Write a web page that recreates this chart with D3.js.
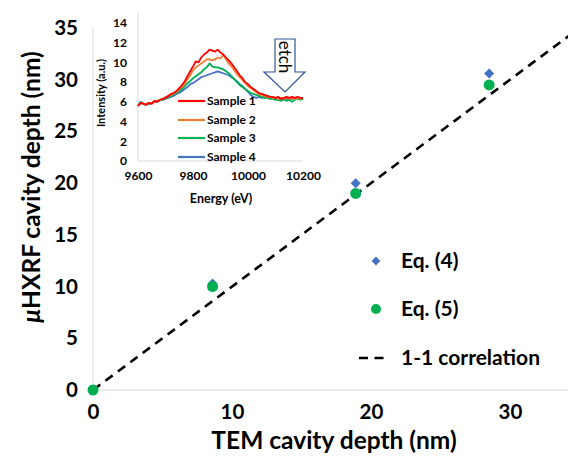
<!DOCTYPE html>
<html><head><meta charset="utf-8">
<script src="https://cdn.jsdelivr.net/npm/d3@7"></script>
<style>body{margin:0;background:#fff}svg{display:block}text{font-family:Lato,"Open Sans",sans-serif}</style>
</head><body><svg id="c" width="568" height="461"></svg>
<script>
// Main chart data
const temDepth = [0, 8.6, 18.9, 28.5];
const eq4 = [0, 10.3, 20.0, 30.6];
const eq5 = [0, 10.0, 19.0, 29.5];
const xTicks = [0, 10, 20, 30];
const yTicks = [0, 5, 10, 15, 20, 25, 30, 35];

// Inset data
const energy = d3.range(9600, 10201, 10);
const sample1 = [5.6,5.9,5.8,5.7,5.9,5.8,6.1,6.0,6.2,6.3, 6.4,6.6,6.8,6.9,7.1,7.4,7.7,8.1,8.6,9.1, 9.6,10.1,10.0,10.5,10.8,11.0,11.3,11.2,11.1,11.3, 11.0,10.8,10.5,10.2,9.9,9.5,9.1,8.7,8.4,8.0, 7.8,7.5,7.3,7.1,6.9,6.8,6.7,6.6,6.5,6.5, 6.4,6.5,6.3,6.4,6.5,6.4,6.5,6.4,6.5,6.4,6.4];
const sample2 = [5.6,5.9,5.8,5.8,5.9,5.9,6.0,6.1,6.2,6.3, 6.5,6.6,6.7,6.9,7.0,7.3,7.5,7.9,8.3,8.7, 9.2,9.5,9.7,9.9,10.1,10.3,10.3,10.2,10.3,10.5, 10.4,10.8,10.3,9.9,9.6,9.2,8.8,8.5,8.2,7.9, 7.6,7.4,7.2,7.0,6.8,6.7,6.6,6.5,6.5,6.4, 6.4,6.3,6.4,6.3,6.4,6.3,6.4,6.3,6.4,6.3,6.4];
const sample3 = [5.6,6.0,5.8,5.8,5.8,5.9,6.0,6.1,6.2,6.2, 6.4,6.5,6.6,6.8,6.9,7.1,7.3,7.6,7.9,8.1, 8.4,8.6,8.8,9.0,9.3,9.5,9.9,9.6,9.5,9.5, 9.4,9.3,9.1,8.9,8.6,8.3,8.0,7.7,7.5,7.3, 7.1,6.9,6.8,6.7,6.6,6.5,6.4,6.4,6.3,6.3, 6.2,6.2,6.1,6.3,6.1,6.2,6.0,6.2,6.4,6.2,6.3];
const sample4 = [5.6,5.9,5.8,5.7,5.8,5.9,6.0,6.0,6.2,6.2, 6.3,6.4,6.5,6.6,6.8,6.9,7.1,7.3,7.5,7.8, 7.9,8.1,8.3,8.5,8.6,8.7,8.8,8.9,9.0,9.1, 9.0,8.9,8.8,8.7,8.5,8.3,8.1,7.8,7.6,7.3, 7.0,6.7,6.5,6.4,6.5,6.4,6.5,6.6,6.5,6.4, 6.3,6.4,6.3,6.2,6.3,6.2,6.3,6.4,6.3,6.3,6.4];
const sampleNames = ["Sample 1","Sample 2","Sample 3","Sample 4"];
const sampleColors = ["#FF0000","#ED7D31","#00B050","#4472C4"];
const insetXTicks = [9600, 9800, 10000, 10200];
const insetYTicks = [0,2,4,6,8,10,12,14];

const svg = d3.select("#c");
const x = d3.scaleLinear().domain([0,35]).range([93, 579.5]);
const y = d3.scaleLinear().domain([0,35]).range([390, 28]);
const grid = "#d9d9d9";

// axis lines
svg.append("line").attr("x1",x(0)).attr("x2",568).attr("y1",y(0)).attr("y2",y(0)).attr("stroke",grid).attr("stroke-width",1);
svg.append("line").attr("x1",x(0)).attr("x2",x(0)).attr("y1",y(0)).attr("y2",y(35)).attr("stroke",grid).attr("stroke-width",1);

// ticks
const xAx = svg.append("g").attr("transform",`translate(0,${y(0)})`).call(d3.axisBottom(x).tickValues(xTicks).tickSize(0).tickPadding(14).tickFormat(d3.format("d")));
xAx.select(".domain").remove();
xAx.selectAll("text").attr("font-size",20.5).attr("font-weight","bold").attr("fill","#000").attr("font-family","Lato");
const yAx = svg.append("g").attr("transform",`translate(${x(0)},0)`).call(d3.axisLeft(y).tickValues(yTicks).tickSize(0).tickPadding(15).tickFormat(d3.format("d")));
yAx.select(".domain").remove();
yAx.selectAll("text").attr("font-size",20.5).attr("font-weight","bold").attr("fill","#000").attr("font-family","Lato");

// titles
svg.append("text").attr("x",334).attr("y",449).attr("text-anchor","middle").attr("font-size",24.5).attr("font-weight","bold").text("TEM cavity depth (nm)");
const yt = svg.append("text").attr("transform","translate(40,187) rotate(-90)").attr("text-anchor","middle").attr("font-size",24.5).attr("font-weight","bold");
yt.append("tspan").attr("font-style","italic").text("μ");
yt.append("tspan").text("HXRF cavity depth (nm)");

// 1-1 line
svg.append("line").attr("x1",x(0)).attr("y1",y(0)).attr("x2",x(35)).attr("y2",y(35))
  .attr("stroke","#000").attr("stroke-width",2.6).attr("stroke-dasharray","9,6.5");

// points
const diamond = d3.symbol().type(d3.symbolDiamond2).size(64);
svg.append("g").selectAll("path").data(temDepth.map((t,i)=>[t,eq4[i]])).join("path")
  .attr("transform",d=>`translate(${x(d[0])},${y(d[1])})`).attr("d",diamond).attr("fill","#4472C4");
svg.append("g").selectAll("circle").data(temDepth.map((t,i)=>[t,eq5[i]])).join("circle")
  .attr("cx",d=>x(d[0])).attr("cy",d=>y(d[1])).attr("r",5.5).attr("fill","#00B050");

// legend
const lg = svg.append("g");
lg.append("path").attr("transform","translate(376,261)").attr("d",d3.symbol().type(d3.symbolDiamond2).size(50)).attr("fill","#4472C4");
lg.append("circle").attr("cx",376).attr("cy",309).attr("r",5).attr("fill","#00B050");
lg.append("line").attr("x1",359).attr("x2",388).attr("y1",358).attr("y2",358).attr("stroke","#000").attr("stroke-width",2.6).attr("stroke-dasharray","9,6.5");
[["Eq. (4)",261],["Eq. (5)",309],["1-1 correlation",358]].forEach(([t,yy])=>{
  lg.append("text").attr("x",401).attr("y",yy).attr("dy","0.35em").attr("font-size",21).attr("font-weight","bold").text(t);
});

// ---------- inset ----------
const ix = d3.scaleLinear().domain([9600,10200]).range([138,303]);
const iy = d3.scaleLinear().domain([0,14]).range([161,23]);
const ins = svg.append("g");
ins.append("line").attr("x1",ix(9600)).attr("x2",ix(9600)).attr("y1",iy(0)).attr("y2",13).attr("stroke",grid);
ins.append("line").attr("x1",ix(9600)).attr("x2",ix(10200)).attr("y1",iy(0)).attr("y2",iy(0)).attr("stroke",grid);
const ixa = ins.append("g").attr("transform",`translate(0,${iy(0)})`).call(d3.axisBottom(ix).tickValues(insetXTicks).tickSize(0).tickPadding(10).tickFormat(d3.format("d")));
ixa.select(".domain").remove();
ixa.selectAll("text").attr("font-size",12).attr("font-weight","bold").attr("fill","#000").attr("font-family","Lato");
const iya = ins.append("g").attr("transform",`translate(${ix(9600)},0)`).call(d3.axisLeft(iy).tickValues(insetYTicks).tickSize(0).tickPadding(11).tickFormat(d3.format("d")));
iya.select(".domain").remove();
iya.selectAll("text").attr("font-size",12).attr("font-weight","bold").attr("fill","#000").attr("font-family","Lato");
ins.append("text").attr("x",221).attr("y",203).attr("text-anchor","middle").attr("font-size",12.5).attr("font-weight","bold").text("Energy (eV)");
ins.append("text").attr("transform","translate(105,93) rotate(-90)").attr("text-anchor","middle").attr("font-size",11).attr("font-weight","bold").text("Intensity (a.u.)");

const series = [sample1,sample2,sample3,sample4];
const line = d3.line().x((d,i)=>ix(energy[i])).y(d=>iy(d));
[3,2,1,0].forEach(k=>{
  ins.append("path").datum(series[k]).attr("d",line).attr("fill","none").attr("stroke",sampleColors[k]).attr("stroke-width",1.8).attr("stroke-linejoin","round");
});
// inset legend
sampleNames.forEach((n,i)=>{
  const yy = [101,120,138,157][i];
  ins.append("line").attr("x1",178).attr("x2",205).attr("y1",yy).attr("y2",yy).attr("stroke",sampleColors[i]).attr("stroke-width",2.2);
  ins.append("text").attr("x",207).attr("y",yy).attr("dy","0.35em").attr("font-size",12).attr("font-weight","bold").text(n);
});

// etch arrow
const ar = [[275,39],[295,39],[295,72],[305,72],[285,92],[264,72],[275,72]];
ins.append("path").attr("d",d3.line()(ar)+"Z").attr("fill","#fff").attr("stroke","#2F5597").attr("stroke-width",1.2);
ins.append("text").attr("transform","translate(285,57) rotate(90)").attr("text-anchor","middle").attr("dy","0.35em").attr("font-size",17).text("etch");
</script></body></html>
